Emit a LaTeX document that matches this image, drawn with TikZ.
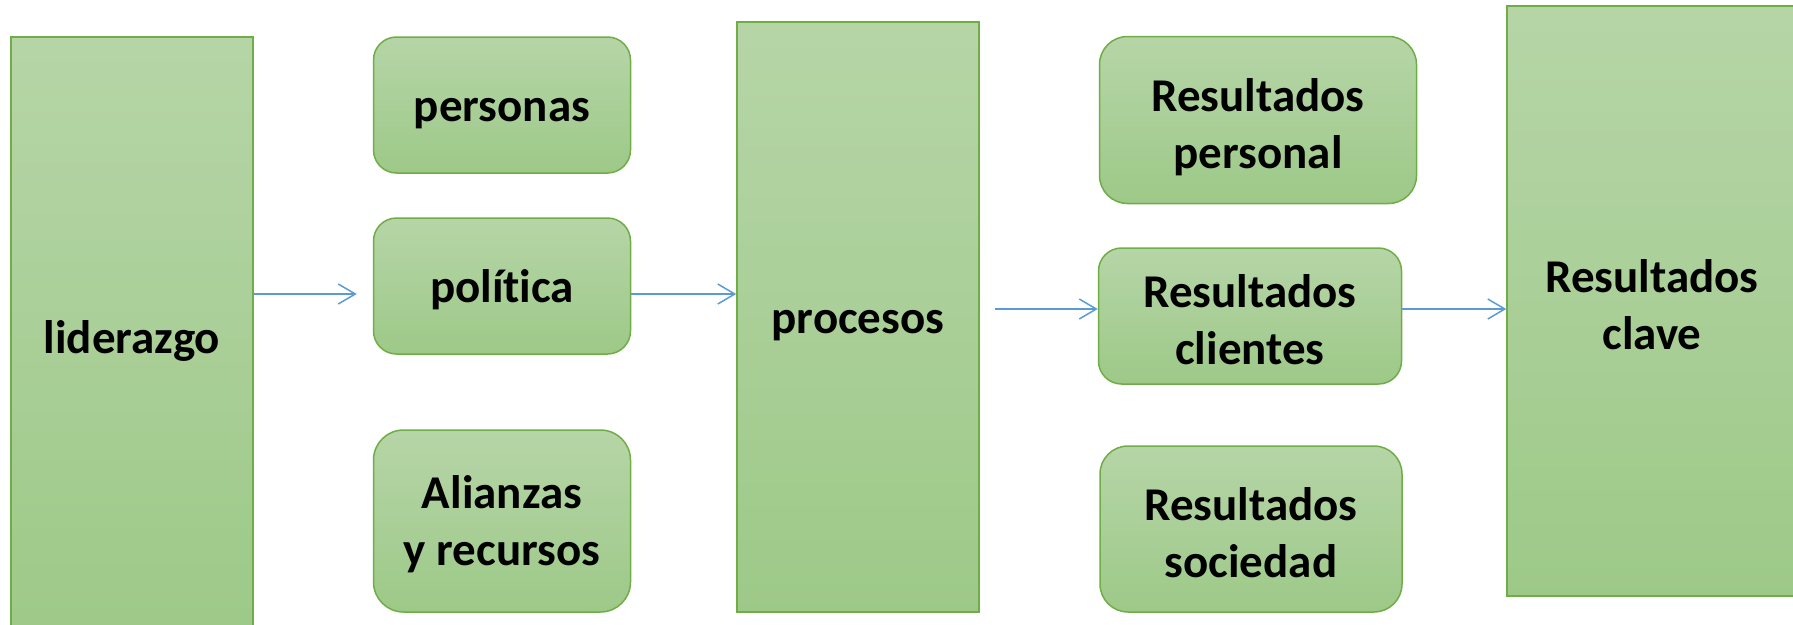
\documentclass[tikz,border=0pt]{standalone}
\usepackage{fontspec}
\setmainfont{Carlito}[Ligatures=CommonOff]
\usetikzlibrary{arrows.meta}
\definecolor{verdeborde}{RGB}{112,173,71}
\definecolor{verdearriba}{RGB}{182,213,167}
\definecolor{verdeabajo}{RGB}{157,201,136}
\definecolor{azulflecha}{RGB}{91,155,213}

\begin{document}
\begin{tikzpicture}[x=1pt,y=-1pt,
  caja/.style={draw=verdeborde, line width=1.5pt, top color=verdearriba,
    bottom color=verdeabajo, inner sep=0pt, align=center,
    font=\fontsize{47}{57}\selectfont\bfseries},
  flecha/.style={draw=azulflecha, line width=1.5pt,
    -{Straight Barb[length=17pt,width=20pt]}}]
  \def\unica{\rule[-12.5pt]{0pt}{57pt}}
  \def\arriba{\rule{0pt}{51.5pt}}
  \def\abajo{\rule[-12.5pt]{0pt}{12.5pt}}
  \useasboundingbox (0,0) rectangle (1793,624);
  \clip (0,0) rectangle (1793,624);

  % columnas grandes
  \node[caja, minimum width=242pt, minimum height=600pt] (lider) at (132,337) {\unica liderazgo};
  \node[caja, minimum width=242pt, minimum height=590pt] (procesos) at (858,317) {\unica procesos};
  \node[caja, minimum width=290pt, minimum height=590pt] (clave) at (1652,301) {\arriba Resultados\\\abajo clave};

  % cajas redondeadas
  \node[caja, rounded corners=23pt, minimum width=257pt, minimum height=136pt] (personas) at (502,105) {\unica personas};
  \node[caja, rounded corners=23pt, minimum width=257pt, minimum height=136pt] (politica) at (502,286) {\unica política};
  \node[caja, rounded corners=30pt, minimum width=257pt, minimum height=182pt] (alianzas) at (502,521) {\unica Alianzas\\\abajo y recursos};

  \node[caja, rounded corners=28pt, minimum width=317pt, minimum height=167pt] (personal) at (1258,120) {\arriba Resultados\\\abajo personal};
  \node[caja, rounded corners=23pt, minimum width=303pt, minimum height=136pt] (clientes) at (1250,316) {\arriba Resultados\\\abajo clientes};
  \node[caja, rounded corners=28pt, minimum width=302pt, minimum height=166pt] (sociedad) at (1251,529) {\arriba Resultados\\\abajo sociedad};

  % flechas
  \coordinate (nivelA) at (0,294);
  \coordinate (nivelB) at (0,309);
  \draw[flecha, shorten >=16pt] (lider.east |- nivelA) -- (politica.west |- nivelA);
  \draw[flecha] (politica.east |- nivelA) -- (procesos.west |- nivelA);
  \draw[flecha, shorten <=15pt] (procesos.east |- nivelB) -- (clientes.west |- nivelB);
  \draw[flecha] (clientes.east |- nivelB) -- (clave.west |- nivelB);
\end{tikzpicture}
\end{document}
